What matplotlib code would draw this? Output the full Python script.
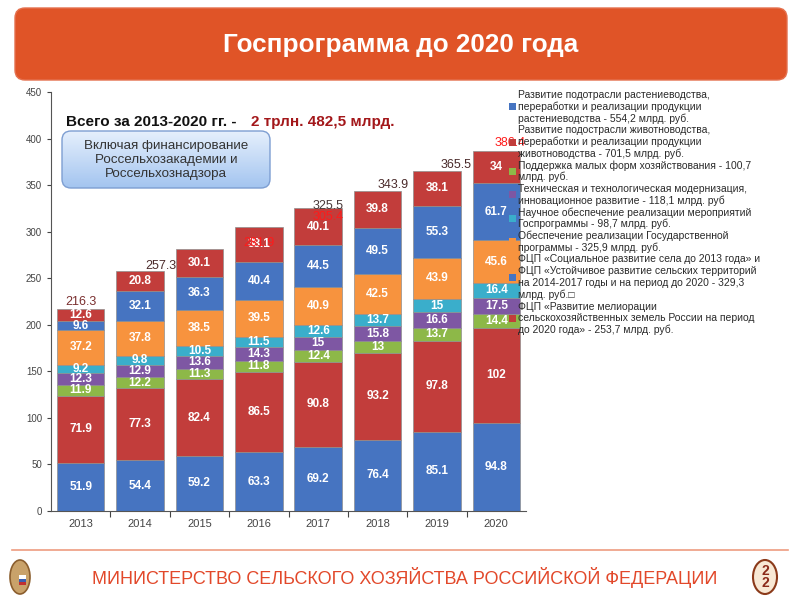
import matplotlib
matplotlib.use("Agg")
import matplotlib.pyplot as plt
import numpy as np
from matplotlib.patches import FancyBboxPatch, Ellipse, Rectangle

plt.rcParams['font.family'] = ['Liberation Sans', 'DejaVu Sans']

# ---------------- data ----------------
years = ["2013", "2014", "2015", "2016", "2017", "2018", "2019", "2020"]
crop = [51.9, 54.4, 59.2, 63.3, 69.2, 76.4, 85.1, 94.8]
livestock = [71.9, 77.3, 82.4, 86.5, 90.8, 93.2, 97.8, 102]
small_farms = [11.9, 12.2, 11.3, 11.8, 12.4, 13, 13.7, 14.4]
modernization = [12.3, 12.9, 13.6, 14.3, 15, 15.8, 16.6, 17.5]
science = [9.2, 9.8, 10.5, 11.5, 12.6, 13.7, 15, 16.4]
program_support = [37.2, 37.8, 38.5, 39.5, 40.9, 42.5, 43.9, 45.6]
rural_dev = [9.6, 32.1, 36.3, 40.4, 44.5, 49.5, 55.3, 61.7]
melioration = [12.6, 20.8, 30.1, 38.1, 40.1, 39.8, 38.1, 34]
total_labels = ["216.3", "257.3", "281.9", "305.4", "325.5", "343.9", "365.5", "386.4"]

legend_texts = [
    ["Развитие подотрасли растениеводства,", "переработки и реализации продукции",
     "растениеводства - 554,2 млрд. руб."],
    ["Развитие подострасли животноводства,", "переработки и реализации продукции",
     "животноводства - 701,5 млрд. руб."],
    ["Поддержка малых форм хозяйствования - 100,7", "млрд. руб."],
    ["Техническая и технологическая модернизация,", "инновационное развитие - 118,1 млрд. руб"],
    ["Научное обеспечение реализации мероприятий", "Госпрограммы - 98,7 млрд. руб."],
    ["Обеспечение реализации Государственной", "программы - 325,9 млрд. руб."],
    ["ФЦП «Социальное развитие села до 2013 года» и",
     "ФЦП «Устойчивое развитие сельских территорий",
     "на 2014-2017 годы и на период до 2020 - 329,3", "млрд. руб.\u25a1"],
    ["ФЦП «Развитие мелиорации", "сельскохозяйственных земель России на период",
     "до 2020 года» - 253,7 млрд. руб."],
]

series = [crop, livestock, small_farms, modernization, science,
          program_support, rural_dev, melioration]
colors = ["#4674C1", "#C23D3B", "#8DB848", "#7E57A3", "#3AAECB",
          "#F7933E", "#4674C1", "#C23D3B"]

# ---------------- figure ----------------
fig = plt.figure(figsize=(8, 6), dpi=100)
fig.patch.set_facecolor("white")

ax = fig.add_axes([51 / 800, 1 - 511 / 600, 475 / 800, 419 / 600])
x = np.arange(len(years))
bottom = np.zeros(len(years))
for vals, col in zip(series, colors):
    v = np.array(vals, dtype=float)
    ax.bar(x, v, bottom=bottom, width=0.8, color=col, edgecolor="#8f8f8f",
           linewidth=0.5, zorder=2)
    for xi, b, val in zip(x, bottom, v):
        ax.text(xi, b + val / 2, f"{val:g}", ha="center", va="center",
                color="white", fontsize=8.5, fontweight="bold", zorder=4)
    bottom += v

# total labels (offset as in reference)
tot_dx = [0.0, 0.35, 1.0, 1.16, 0.16, 0.26, 0.32, 0.24]
tot_dy = [8, 6, 6, 10, 2, 6, 6, 9]
tot_col = ["#7A2E2E", "#4A2A2A", "#FF1A1A", "#FF1A1A", "#4A3A3A",
           "#4A2A2A", "#4A2A2A", "#FF1A1A"]
for i, lab in enumerate(total_labels):
    ax.text(x[i] + tot_dx[i], bottom[i] + tot_dy[i], lab, ha="center",
            va="center", fontsize=9, color=tot_col[i], zorder=5, clip_on=False)

ax.set_xlim(-0.5, len(years) - 0.5)
ax.set_ylim(0, 450)
ax.set_yticks(np.arange(0, 451, 50))
ax.set_yticklabels([str(v) for v in range(0, 451, 50)])
ax.tick_params(axis="y", labelsize=7, colors="#444444", length=3, width=0.8)
ax.set_xticks(x)
ax.set_xticklabels(years)
ax.tick_params(axis="x", which="major", length=0, labelsize=8,
               labelcolor="#444444", pad=6)
ax.set_xticks(np.arange(0.5, len(years) - 0.5, 1), minor=True)
ax.tick_params(axis="x", which="minor", length=4, width=0.8, color="#444444")
for s in ["top", "right"]:
    ax.spines[s].set_visible(False)
for s in ["left", "bottom"]:
    ax.spines[s].set_color("#555555")
    ax.spines[s].set_linewidth(0.8)

# ---------------- overlay in pixel coordinates ----------------
ov = fig.add_axes([0, 0, 1, 1], zorder=10)
ov.set_xlim(0, 800)
ov.set_ylim(600, 0)
ov.axis("off")
ov.patch.set_visible(False)

# title banner
ban = FancyBboxPatch((15, 8), 772, 72, boxstyle="round,pad=0,rounding_size=10",
                     facecolor="#E05427", edgecolor="#E4704E", linewidth=1)
ov.add_patch(ban)
ov.text(401, 45, "Госпрограмма до 2020 года", ha="center", va="center",
        color="white", fontsize=18.8, fontweight="bold")

# total text
ov.text(66, 122, "Всего за 2013-2020 гг. - ", ha="left", va="center",
        fontsize=11, fontweight="bold", color="#111111")
ov.text(251, 122, "2 трлн. 482,5 млрд.", ha="left", va="center",
        fontsize=11, fontweight="bold", color="#A3171A")

# gradient box
box = FancyBboxPatch((62, 131), 208, 57, boxstyle="round,pad=0,rounding_size=9",
                     facecolor="none", edgecolor="#7D9ED2", linewidth=1.0, zorder=3)
ov.add_patch(box)
grad = np.linspace(0, 1, 100).reshape(-1, 1)
c1 = np.array([0.90, 0.94, 0.99])
c2 = np.array([0.64, 0.77, 0.94])
img = c1 + (c2 - c1) * grad[:, :, None] * np.ones((1, 2, 1))
im = ov.imshow(img, extent=(62, 270, 188, 131), aspect="auto", zorder=2,
               interpolation="bilinear")
im.set_clip_path(box)
ov.set_xlim(0, 800)
ov.set_ylim(600, 0)
ov.text(166, 160, "Включая финансирование\nРоссельхозакадемии и\nРоссельхознадзора",
        ha="center", va="center", fontsize=9.6, color="#333333",
        linespacing=1.2, zorder=4)

# legend
line_y0 = 95
line_h = 11.75
k = 0
for texts, col in zip(legend_texts, colors):
    n = len(texts)
    ymid = line_y0 + (k + (n - 1) / 2) * line_h
    ov.add_patch(Rectangle((509, ymid - 3.5), 7, 7, facecolor=col,
                           edgecolor="none", zorder=6))
    for j, t in enumerate(texts):
        ov.text(518, line_y0 + (k + j) * line_h, t, ha="left", va="center",
                fontsize=7.5, color="#2a2a2a", zorder=6)
    k += n

# footer
ov.plot([12, 788], [550, 550], color="#EE9C80", lw=1.2)
ov.text(405, 577, "МИНИСТЕРСТВО СЕЛЬСКОГО ХОЗЯЙСТВА РОССИЙСКОЙ ФЕДЕРАЦИИ",
        ha="center", va="center", fontsize=13, color="#E2482A")
ov.add_patch(Ellipse((20, 577), 20, 34, facecolor="#C9A26A",
                     edgecolor="#8B5E2E", linewidth=1.2))
ov.add_patch(Rectangle((19, 575), 7, 10, facecolor="white", edgecolor="none"))
ov.add_patch(Rectangle((19, 579), 7, 3, facecolor="#3A5FB0", edgecolor="none"))
ov.add_patch(Rectangle((19, 582), 7, 3, facecolor="#C03030", edgecolor="none"))
ov.add_patch(Ellipse((765, 577), 24, 34, facecolor="#F8E8D4",
                     edgecolor="#8B3A1A", linewidth=1.5))
ov.text(765, 577, "2\n2", ha="center", va="center", fontsize=10,
        fontweight="bold", color="#8B2A1A", linespacing=0.9)

fig.savefig("out.png", dpi=100)
